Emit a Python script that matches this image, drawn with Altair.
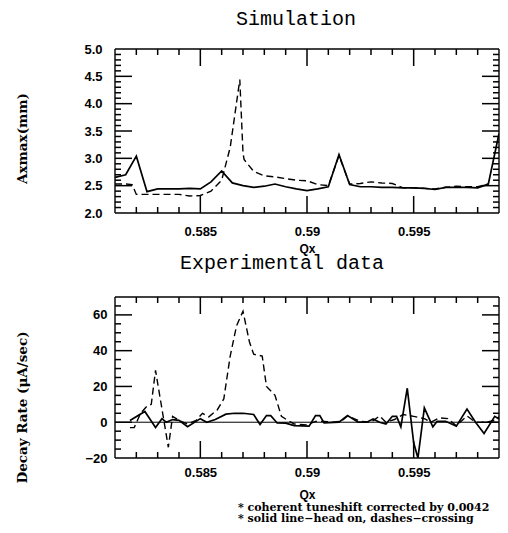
import altair as alt
import pandas as pd

# ---------------- data ----------------
SIM_HEAD_QX = [0.5810, 0.5815, 0.5820, 0.5825, 0.5830, 0.5835, 0.5840, 0.5845, 0.5850, 0.5855,
               0.5860, 0.5865, 0.5870, 0.5875, 0.5880, 0.5885, 0.5890, 0.5895, 0.5900, 0.5905,
               0.5910, 0.5915, 0.5920, 0.5925, 0.5930, 0.5935, 0.5940, 0.5945, 0.5950, 0.5955,
               0.5960, 0.5965, 0.5970, 0.5975, 0.5980, 0.5985, 0.5990]
SIM_HEAD_AX = [2.65, 2.70, 3.04, 2.39, 2.44, 2.44, 2.44, 2.45, 2.44, 2.57,
               2.77, 2.55, 2.50, 2.47, 2.49, 2.53, 2.48, 2.44, 2.41, 2.44,
               2.48, 3.07, 2.52, 2.48, 2.48, 2.47, 2.47, 2.46, 2.46, 2.45,
               2.43, 2.47, 2.47, 2.47, 2.46, 2.53, 3.45]

SIM_CROSS_QX = [0.5810, 0.5815, 0.5818, 0.5820, 0.5825, 0.5830, 0.5835, 0.5840, 0.5845, 0.5850,
                0.5855, 0.5860, 0.5864, 0.5866, 0.58685, 0.5870, 0.58705, 0.5875, 0.5880, 0.5885,
                0.5890, 0.5895, 0.5900, 0.5905, 0.5910, 0.5915, 0.5920, 0.5925, 0.5930, 0.5935,
                0.5940, 0.5945, 0.5950, 0.5955, 0.5960, 0.5965, 0.5970, 0.5975, 0.5980, 0.5985]
SIM_CROSS_AX = [2.53, 2.53, 2.52, 2.34, 2.34, 2.34, 2.34, 2.34, 2.31, 2.32,
                2.40, 2.60, 3.20, 3.75, 4.44, 3.10, 2.98, 2.76, 2.68, 2.66,
                2.63, 2.60, 2.59, 2.52, 2.50, 3.05, 2.53, 2.54, 2.57, 2.55,
                2.54, 2.46, 2.46, 2.45, 2.44, 2.47, 2.49, 2.48, 2.48, 2.53]

EXP_HEAD_QX = [0.5817, 0.5824, 0.5829, 0.5832, 0.5834, 0.5837, 0.5840, 0.5844, 0.5850, 0.5853,
               0.5857, 0.5862, 0.5866, 0.5870, 0.5875, 0.5878, 0.5881, 0.5883, 0.5886, 0.5890,
               0.5894, 0.5901, 0.5904, 0.5906, 0.5908, 0.5915, 0.5919, 0.5924, 0.5928, 0.5931,
               0.5934, 0.5937, 0.5940, 0.5942, 0.5944, 0.5947, 0.5950, 0.5952, 0.5955, 0.5959,
               0.5961, 0.5965, 0.5970, 0.5975, 0.5979, 0.5983, 0.5988, 0.5990]
EXP_HEAD_RATE = [1, 6, -3, 2, 0, 1.5, 1, -2.5, 2, 0,
                 1.5, 4.5, 5, 5, 4.3, -1.3, 3.7, 3.7, -0.4, -0.5,
                 -1.9, -2.2, 3.7, 3.7, -0.4, 0, 3.7, 0, 0, 1.8,
                 0, -1, 3.3, 3.3, -2.6, 19, -11.5, -20, 8, -2.6,
                 0.5, 0.5, -2.2, 7.4, 0, -6.3, 3.3, 1.8]

EXP_CROSS_QX = [0.5817, 0.5819, 0.5822, 0.5825, 0.5827, 0.5829, 0.5835, 0.5837, 0.5840, 0.5844,
                0.5848, 0.5851, 0.5854, 0.5858, 0.5861, 0.5864, 0.5867, 0.5870, 0.5873, 0.5875,
                0.5879, 0.5881, 0.5885, 0.5888, 0.5890, 0.5894, 0.5900, 0.5904, 0.5908, 0.5912,
                0.5916, 0.5919, 0.5922, 0.5925, 0.5930, 0.5934, 0.5937, 0.5941, 0.5945, 0.5950,
                0.5955, 0.5958, 0.5962, 0.5966, 0.5970, 0.5975, 0.5979, 0.5984, 0.5988, 0.5990]
EXP_CROSS_RATE = [-3, -3, 5, 9, 10, 29, -14, 3.3, 1, -1,
                  1, 5, 3, 7, 13, 37, 54, 62, 45, 38,
                  37, 20, 15, 3.3, 1.8, -1, -1.5, 0.5, 0.5, 0,
                  0.5, 3.5, 2, 0.5, 0, 3.5, 0, 1.5, 4.3, 3.3,
                  2, 0, 2.5, 2, -2, 3.5, 0, 0, 1, 3]

ZERO_LINE = [0]

QX_MAJOR = [0.585, 0.59, 0.595]
QX_MINOR = [0.582, 0.583, 0.584, 0.586, 0.587, 0.588, 0.589, 0.591, 0.592, 0.593,
            0.594, 0.596, 0.597, 0.598]
AX_LABELS = [2.0, 2.5, 3.0, 3.5, 4.0, 4.5, 5.0]
AX_MAJOR = [2.5, 3.0, 3.5, 4.0, 4.5]
AX_MINOR = [2.1, 2.2, 2.3, 2.4, 2.6, 2.7, 2.8, 2.9, 3.1, 3.2, 3.3, 3.4, 3.6, 3.7, 3.8,
            3.9, 4.1, 4.2, 4.3, 4.4, 4.6, 4.7, 4.8, 4.9]
RATE_LABELS = [-20, 0, 20, 40, 60]
RATE_MAJOR = [0, 20, 40, 60]
RATE_MINOR = [-15, -10, -5, 5, 10, 15, 25, 30, 35, 45, 50, 55, 65]

FOOTNOTE = "* coherent tuneshift corrected by 0.0042\n* solid line\u2212head on, dashes\u2212crossing"

W = 384
H1 = 164
H2 = 161
XDOM = [0.581, 0.599]
MAJ = 17   # tick lengths in px
MIN = 6


def panel(title, title_dx, title_off, head_qx, head_v, cross_qx, cross_v, ydom, ylabels, yfmt,
          ymajor, yminor, ytitle, title_y, lab_pad, xlab_pad, xtitle_pad, h, extra=None):
    xs = alt.Scale(domain=XDOM, nice=False, zero=False)
    ys = alt.Scale(domain=ydom, nice=False, zero=False)
    xaxis = alt.Axis(values=QX_MAJOR, format=".3~f", title="Qx", grid=False, ticks=False,
                     domain=False, labelFont="Liberation Sans", labelFontWeight="bold",
                     labelFontSize=13, labelColor="black", labelPadding=xlab_pad,
                     titleFont="Liberation Sans", titleFontWeight="bold", titleFontSize=12,
                     titleColor="black", titlePadding=xtitle_pad)
    yaxis = alt.Axis(values=ylabels, format=yfmt, title=ytitle, grid=False, ticks=False,
                     domain=False, labelFont="Liberation Sans", labelFontWeight="bold",
                     labelFontSize=13, labelColor="black", labelPadding=lab_pad,
                     titleFont="DejaVu Serif", titleFontWeight="bold", titleFontSize=13.5,
                     titleColor="black", titleAngle=270, titleX=-93, titleY=title_y,
                     titleAlign="center", titleBaseline="middle")
    X = lambda f: alt.X(f, scale=xs, axis=xaxis, title="Qx")
    Y = lambda f: alt.Y(f, scale=ys, axis=yaxis, title=ytitle)

    xspan = XDOM[1] - XDOM[0]
    yspan = ydom[1] - ydom[0]
    dy = lambda L: L * yspan / h   # pixel length -> data units
    dx = lambda L: L * xspan / W

    head = pd.DataFrame({"qx": head_qx, "v": head_v})
    cross = pd.DataFrame({"qx": cross_qx, "v": cross_v})

    # frame
    edges = pd.DataFrame({"x0": [XDOM[0], XDOM[0], XDOM[0], XDOM[1]],
                          "x1": [XDOM[1], XDOM[1], XDOM[0], XDOM[1]],
                          "y0": [ydom[0], ydom[1], ydom[0], ydom[0]],
                          "y1": [ydom[0], ydom[1], ydom[1], ydom[1]]})
    frame = alt.Chart(edges).mark_rule(color="black", strokeWidth=1.4).encode(
        x=X("x0:Q"), x2="x1:Q", y=Y("y0:Q"), y2="y1:Q")

    l_head = alt.Chart(head).mark_line(color="black", strokeWidth=1.7, clip=True).encode(
        x=X("qx:Q"), y=Y("v:Q"), order="qx:Q")
    l_cross = alt.Chart(cross).mark_line(color="black", strokeWidth=1.4, strokeDash=[7, 4],
                                         clip=True).encode(
        x=X("qx:Q"), y=Y("v:Q"), order="qx:Q")

    def xt(vals, L):
        n = len(vals)
        d = pd.DataFrame({"x0": vals * 2, "x1": vals * 2,
                          "y0": [ydom[0]] * n + [ydom[1]] * n,
                          "y1": [ydom[0] + dy(L)] * n + [ydom[1] - dy(L)] * n})
        return alt.Chart(d).mark_rule(color="black", strokeWidth=1.5).encode(
            x=X("x0:Q"), x2="x1:Q", y=Y("y0:Q"), y2="y1:Q")

    def yt(vals, L):
        n = len(vals)
        d = pd.DataFrame({"y0": vals * 2, "y1": vals * 2,
                          "x0": [XDOM[0]] * n + [XDOM[1]] * n,
                          "x1": [XDOM[0] + dx(L)] * n + [XDOM[1] - dx(L)] * n})
        return alt.Chart(d).mark_rule(color="black", strokeWidth=1.5).encode(
            x=X("x0:Q"), x2="x1:Q", y=Y("y0:Q"), y2="y1:Q")

    layers = [frame, xt(QX_MAJOR, MAJ), xt(QX_MINOR, MIN), yt(ymajor, MAJ), yt(yminor, MIN),
              l_head, l_cross]
    if extra:
        layers += extra(X, Y)
    return alt.layer(*layers).properties(
        width=W, height=h,
        title=alt.TitleParams(text=title, font="Liberation Mono", fontSize=20, fontWeight="normal",
                              color="black", anchor="middle", dx=title_dx, offset=title_off))


def bottom_extra(X, Y):
    zero = alt.Chart(pd.DataFrame({"y0": ZERO_LINE, "y1": ZERO_LINE,
                                   "x0": [XDOM[0]], "x1": [XDOM[1]]})).mark_rule(
        color="black", strokeWidth=1.0).encode(x=X("x0:Q"), x2="x1:Q", y=Y("y0:Q"), y2="y1:Q")
    note = alt.Chart(pd.DataFrame({"note": [FOOTNOTE]})).mark_text(
        align="left", baseline="top", font="DejaVu Serif", fontWeight="bold", fontSize=11,
        lineBreak="\n", lineHeight=10.5, color="black").encode(
        text="note:N", x=alt.value(123), y=alt.value(H2 + 44))
    return [zero, note]


top = panel("Simulation", -11, 14.5, SIM_HEAD_QX, SIM_HEAD_AX, SIM_CROSS_QX, SIM_CROSS_AX,
            [2.0, 5.0], AX_LABELS, ".1f", AX_MAJOR, AX_MINOR, "Axmax(mm)", 89, 13, 12, 5, H1)
bottom = panel("Experimental data", -25, 23, EXP_HEAD_QX, EXP_HEAD_RATE, EXP_CROSS_QX, EXP_CROSS_RATE,
               [-20, 70], RATE_LABELS, "d", RATE_MAJOR, RATE_MINOR, "Decay Rate (\u03bcA/sec)", 110,
               8, 8, 10, H2, extra=bottom_extra)

chart = alt.vconcat(top, bottom, spacing=-1).properties(
    padding={"left": 7, "top": 0, "right": 0, "bottom": 0}
).configure_view(stroke=None)

chart.save("out.html", embed_options={"renderer": "svg", "actions": False})
